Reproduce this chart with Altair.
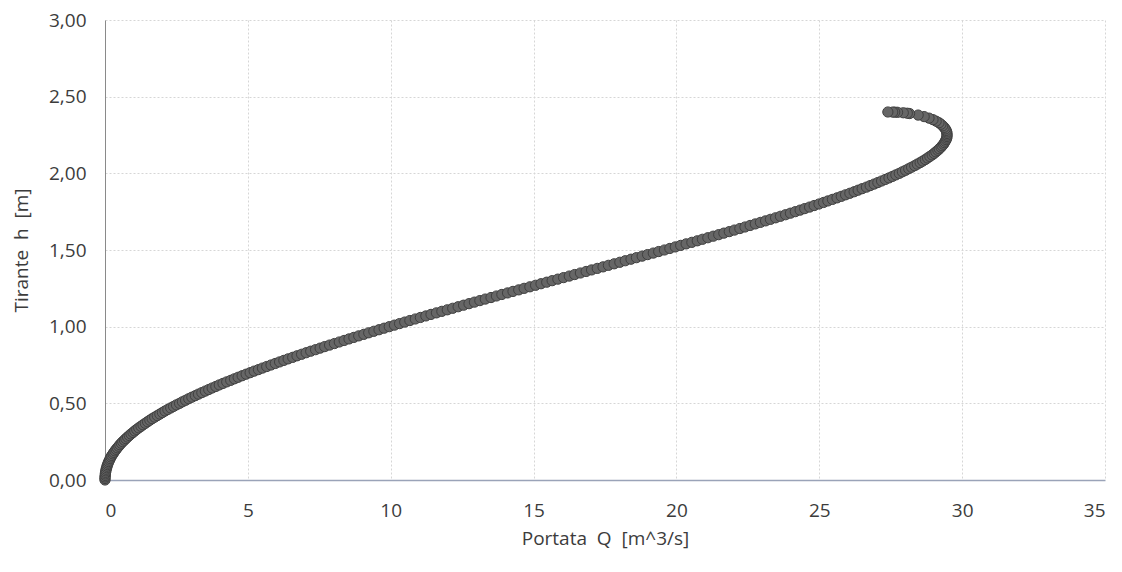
import altair as alt
import pandas as pd

# Tirante h [m]
h_values = [
    0.00, 0.01, 0.02, 0.03, 0.04, 0.05, 0.06, 0.07, 0.08, 0.09,
    0.10, 0.11, 0.12, 0.13, 0.14, 0.15, 0.16, 0.17, 0.18, 0.19,
    0.20, 0.21, 0.22, 0.23, 0.24, 0.25, 0.26, 0.27, 0.28, 0.29,
    0.30, 0.31, 0.32, 0.33, 0.34, 0.35, 0.36, 0.37, 0.38, 0.39,
    0.40, 0.41, 0.42, 0.43, 0.44, 0.45, 0.46, 0.47, 0.48, 0.49,
    0.50, 0.51, 0.52, 0.53, 0.54, 0.55, 0.56, 0.57, 0.58, 0.59,
    0.60, 0.61, 0.62, 0.63, 0.64, 0.65, 0.66, 0.67, 0.68, 0.69,
    0.70, 0.71, 0.72, 0.73, 0.74, 0.75, 0.76, 0.77, 0.78, 0.79,
    0.80, 0.81, 0.82, 0.83, 0.84, 0.85, 0.86, 0.87, 0.88, 0.89,
    0.90, 0.91, 0.92, 0.93, 0.94, 0.95, 0.96, 0.97, 0.98, 0.99,
    1.00, 1.01, 1.02, 1.03, 1.04, 1.05, 1.06, 1.07, 1.08, 1.09,
    1.10, 1.11, 1.12, 1.13, 1.14, 1.15, 1.16, 1.17, 1.18, 1.19,
    1.20, 1.21, 1.22, 1.23, 1.24, 1.25, 1.26, 1.27, 1.28, 1.29,
    1.30, 1.31, 1.32, 1.33, 1.34, 1.35, 1.36, 1.37, 1.38, 1.39,
    1.40, 1.41, 1.42, 1.43, 1.44, 1.45, 1.46, 1.47, 1.48, 1.49,
    1.50, 1.51, 1.52, 1.53, 1.54, 1.55, 1.56, 1.57, 1.58, 1.59,
    1.60, 1.61, 1.62, 1.63, 1.64, 1.65, 1.66, 1.67, 1.68, 1.69,
    1.70, 1.71, 1.72, 1.73, 1.74, 1.75, 1.76, 1.77, 1.78, 1.79,
    1.80, 1.81, 1.82, 1.83, 1.84, 1.85, 1.86, 1.87, 1.88, 1.89,
    1.90, 1.91, 1.92, 1.93, 1.94, 1.95, 1.96, 1.97, 1.98, 1.99,
    2.00, 2.01, 2.02, 2.03, 2.04, 2.05, 2.06, 2.07, 2.08, 2.09,
    2.10, 2.11, 2.12, 2.13, 2.14, 2.15, 2.16, 2.17, 2.18, 2.19,
    2.20, 2.21, 2.22, 2.23, 2.24, 2.25, 2.26, 2.27, 2.28, 2.29,
    2.30, 2.31, 2.32, 2.33, 2.34, 2.35, 2.36, 2.37, 2.38, 2.39,
    2.392, 2.395, 2.398, 2.399, 2.3995, 2.40,
]

# Portata Q [m^3/s]
q_values = [
    0.00, 0.00, 0.00, 0.01, 0.01, 0.02, 0.03, 0.04, 0.06, 0.07,
    0.09, 0.11, 0.13, 0.16, 0.18, 0.21, 0.24, 0.28, 0.31, 0.35,
    0.39, 0.43, 0.48, 0.52, 0.57, 0.62, 0.68, 0.73, 0.79, 0.85,
    0.91, 0.98, 1.04, 1.11, 1.18, 1.26, 1.33, 1.41, 1.49, 1.57,
    1.65, 1.74, 1.83, 1.92, 2.01, 2.10, 2.20, 2.30, 2.40, 2.50,
    2.61, 2.71, 2.82, 2.93, 3.04, 3.16, 3.27, 3.39, 3.51, 3.63,
    3.75, 3.88, 4.00, 4.13, 4.26, 4.40, 4.53, 4.66, 4.80, 4.94,
    5.08, 5.22, 5.37, 5.51, 5.66, 5.81, 5.96, 6.11, 6.26, 6.41,
    6.57, 6.72, 6.88, 7.04, 7.20, 7.37, 7.53, 7.69, 7.86, 8.03,
    8.20, 8.37, 8.54, 8.71, 8.88, 9.06, 9.23, 9.41, 9.59, 9.77,
    9.95, 10.13, 10.31, 10.49, 10.67, 10.86, 11.04, 11.23, 11.41, 11.60,
    11.79, 11.98, 12.17, 12.36, 12.55, 12.74, 12.93, 13.12, 13.31, 13.51,
    13.70, 13.89, 14.09, 14.28, 14.48, 14.67, 14.87, 15.07, 15.26, 15.46,
    15.65, 15.85, 16.05, 16.25, 16.44, 16.64, 16.84, 17.03, 17.23, 17.43,
    17.62, 17.82, 18.02, 18.21, 18.41, 18.60, 18.80, 18.99, 19.19, 19.38,
    19.58, 19.77, 19.96, 20.15, 20.34, 20.54, 20.73, 20.91, 21.10, 21.29,
    21.48, 21.66, 21.85, 22.03, 22.22, 22.40, 22.58, 22.76, 22.94, 23.12,
    23.29, 23.47, 23.64, 23.82, 23.99, 24.16, 24.33, 24.49, 24.66, 24.82,
    24.99, 25.15, 25.30, 25.46, 25.62, 25.77, 25.92, 26.07, 26.22, 26.36,
    26.50, 26.65, 26.78, 26.92, 27.05, 27.18, 27.31, 27.44, 27.56, 27.68,
    27.80, 27.91, 28.02, 28.13, 28.23, 28.34, 28.43, 28.53, 28.62, 28.71,
    28.79, 28.87, 28.95, 29.02, 29.08, 29.15, 29.20, 29.26, 29.30, 29.35,
    29.38, 29.41, 29.44, 29.46, 29.47, 29.47, 29.47, 29.46, 29.44, 29.41,
    29.37, 29.32, 29.26, 29.19, 29.09, 28.98, 28.84, 28.67, 28.46, 28.16,
    28.08, 27.94, 27.74, 27.64, 27.57, 27.40,
]

x_ticks = [0, 5, 10, 15, 20, 25, 30, 35]
y_ticks = [0.0, 0.5, 1.0, 1.5, 2.0, 2.5, 3.0]

df = pd.DataFrame({"Q": q_values, "h": h_values})

FONT = "Open Sans"
TEXT = "#3c3c3c"
NB = "\u00a0"

chart = (
    alt.Chart(df)
    .mark_circle(size=105, fill="#666666", stroke="#404040", strokeWidth=1, opacity=1)
    .encode(
        x=alt.X(
            "Q:Q",
            scale=alt.Scale(domain=[0, 35], nice=False),
            axis=alt.Axis(
                values=x_ticks,
                title=f"Portata{NB}{NB}Q{NB}{NB}[m^3/s]",
                labelPadding=21,
                titlePadding=9,
                grid=True,
                gridColor="#d6d6d6",
                gridDash=[2, 2],
                domainColor="#9aa3b8",
                domainWidth=1.5,
                ticks=False,
                tickSize=0,
            ),
        ),
        y=alt.Y(
            "h:Q",
            scale=alt.Scale(domain=[0, 3], nice=False),
            axis=alt.Axis(
                values=y_ticks,
                title=f"Tirante{NB}{NB}h{NB}{NB}[m]",
                labelExpr="replace(format(datum.value, '.2f'), '.', ',')",
                labelPadding=19,
                titlePadding=17,
                grid=True,
                gridColor="#d6d6d6",
                gridDash=[2, 2],
                domainColor="#8a8a8a",
                ticks=False,
                tickSize=0,
            ),
        ),
    )
    .properties(
        width=1000,
        height=460,
        background="white",
        autosize=alt.AutoSizeParams(type="none"),
        padding={"left": 97, "top": 12, "right": 9, "bottom": 84},
    )
    .configure_view(stroke=None)
    .configure_axis(
        labelFont=FONT,
        titleFont=FONT,
        labelFontSize=19,
        titleFontSize=19,
        titleFontWeight="normal",
        labelColor=TEXT,
        titleColor=TEXT,
    )
)

chart.save("out.html", embed_options={"renderer": "svg", "actions": False})
